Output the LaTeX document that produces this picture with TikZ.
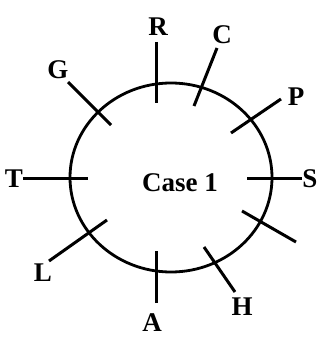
\documentclass[tikz,border=0pt]{standalone}
\usepackage{fontspec}
\setmainfont{Liberation Serif}
\usepackage{tikz}
\usetikzlibrary{positioning}

\begin{document}
\begin{tikzpicture}[x=1pt, y=-1pt,
  lbl/.style={font=\fontsize{27}{29}\selectfont\bfseries, inner sep=0pt},
  tickline/.style={line width=3pt},
  ring/.style={line width=2.8pt}
]
\useasboundingbox (0,0) rectangle (328,339);
\draw[ring] (171,177.5) ellipse [x radius=101, y radius=94.5];
\node[lbl] (case) at (180,183) {Case 1};

% tick ends
\coordinate (g1) at (68,82);   \coordinate (g2) at (111,125);
\coordinate (r1) at (156,42);  \coordinate (r2) at (156,103);
\coordinate (c1) at (217,48);  \coordinate (c2) at (194,106);
\coordinate (p1) at (281,99);  \coordinate (p2) at (231,133);
\coordinate (t1) at (23,178);  \coordinate (t2) at (88,178);
\coordinate (s1) at (302,178); \coordinate (s2) at (247,178);
\coordinate (x1) at (296,242); \coordinate (x2) at (242,211);
\coordinate (h1) at (235,292); \coordinate (h2) at (204,247);
\coordinate (a1) at (156,303); \coordinate (a2) at (156,251);
\coordinate (l1) at (49,261);  \coordinate (l2) at (107,220);

\draw[tickline] (g1) -- (g2);
\draw[tickline] (r1) -- (r2);
\draw[tickline] (c1) -- (c2);
\draw[tickline] (p1) -- (p2);
\draw[tickline] (t1) -- (t2);
\draw[tickline] (s1) -- (s2);
\draw[tickline] (x1) -- (x2);
\draw[tickline] (h1) -- (h2);
\draw[tickline] (a1) -- (a2);
\draw[tickline] (l1) -- (l2);

% labels
\node[lbl] (R) at (158,27) {R};
\node[lbl] (C) at (222,35) {C};
\node[lbl] (G) at (58,70) {G};
\node[lbl] (P) at (296,97) {P};
\node[lbl] (T) at (14,179) {T};
\node[lbl] (S) at (310,179) {S};
\node[lbl] (L) at (43,273) {L};
\node[lbl] (A) at (152,323) {A};
\node[lbl] (H) at (242,307) {H};
\end{tikzpicture}
\end{document}
